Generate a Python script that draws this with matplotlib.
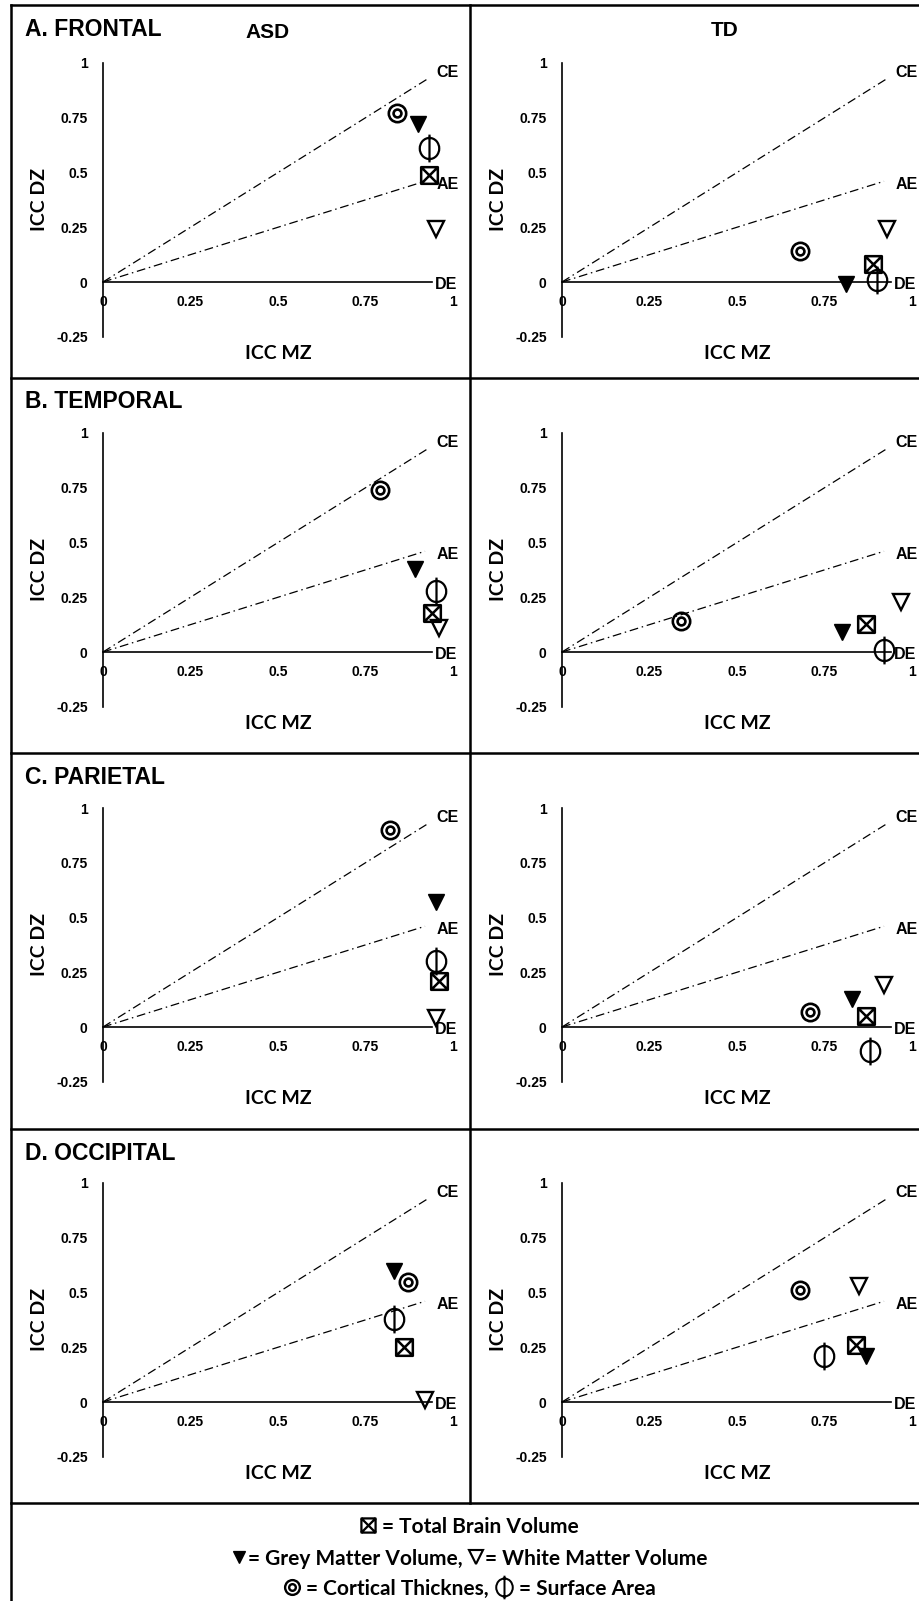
import numpy as np
import matplotlib
matplotlib.use("Agg")
import matplotlib.pyplot as plt
from matplotlib.path import Path
from matplotlib.transforms import Affine2D
from matplotlib.lines import Line2D

# ---- data: (ICC MZ, ICC DZ) per region, order = frontal, temporal, parietal, occipital
REGIONS = ['A. FRONTAL', 'B. TEMPORAL', 'C. PARIETAL', 'D. OCCIPITAL']
GROUPS = ['ASD', 'TD']

TBV_ASD = [(0.93, 0.49), (0.94, 0.18), (0.96, 0.21), (0.86, 0.25)]
TBV_TD = [(0.89, 0.08), (0.87, 0.13), (0.87, 0.05), (0.84, 0.26)]
GMV_ASD = [(0.90, 0.72), (0.89, 0.38), (0.95, 0.57), (0.83, 0.60)]
GMV_TD = [(0.81, -0.01), (0.80, 0.09), (0.83, 0.13), (0.87, 0.21)]
WMV_ASD = [(0.95, 0.24), (0.96, 0.11), (0.95, 0.04), (0.92, 0.01)]
WMV_TD = [(0.93, 0.24), (0.97, 0.23), (0.92, 0.19), (0.85, 0.53)]
CT_ASD = [(0.84, 0.77), (0.79, 0.74), (0.82, 0.90), (0.87, 0.55)]
CT_TD = [(0.68, 0.14), (0.34, 0.14), (0.71, 0.07), (0.68, 0.51)]
SA_ASD = [(0.93, 0.61), (0.95, 0.28), (0.95, 0.30), (0.83, 0.38)]
SA_TD = [(0.90, 0.01), (0.92, 0.01), (0.88, -0.11), (0.75, 0.21)]

X_TICKS = [0, 0.25, 0.5, 0.75, 1]
X_TICKLABELS = ['0', '0.25', '0.5', '0.75', '1']
Y_TICKS = [-0.25, 0, 0.25, 0.5, 0.75, 1]
Y_TICKLABELS = ['-0.25', '0', '0.25', '0.5', '0.75', '1']

REF_END = [0.93, 0.92, 0.94]  # how far CE / AE / DE lines run along MZ
REF_SLOPE = [1.0, 0.5, 0.0]
REF_NAMES = ['CE', 'AE', 'DE']

# legend lines: (marker index, gap before text px, text, gap after px)
LEGEND_LINES = [
    [(0, 7, '= Total Brain Volume', 0)],
    [(1, 2, '= Grey Matter Volume,', 6), (2, 2, '= White Matter Volume', 0)],
    [(3, 7, '= Cortical Thicknes,', 7), (4, 7, '= Surface Area', 0)],
]
LEGEND_Y = [1525, 1557, 1587]


# ---- custom marker shapes
def box_x_marker():
    verts = [(-1, -1), (1, -1), (1, 1), (-1, 1), (-1, -1),
             (-1, -1), (1, 1), (-1, 1), (1, -1)]
    codes = [Path.MOVETO, Path.LINETO, Path.LINETO, Path.LINETO, Path.CLOSEPOLY,
             Path.MOVETO, Path.LINETO, Path.MOVETO, Path.LINETO]
    return Path(verts, codes)


def double_circle_marker():
    outer = Path.unit_circle()
    inner = Path.unit_circle().transformed(Affine2D().scale(0.45))
    return Path.make_compound_path(outer, inner)


def phi_marker():
    oval = Path.unit_circle().transformed(Affine2D().scale(0.7, 0.76))
    stem = Path([(0, -1), (0, 1)], [Path.MOVETO, Path.LINETO])
    return Path.make_compound_path(oval, stem)


W, H = 920, 1601
fig = plt.figure(figsize=(W / 100, H / 100), dpi=100)

COL_X0 = [103, 562]           # pixel of MZ = 0
ROW_Y1 = [63, 433, 808, 1183]  # pixel of DZ = 1
ROW_TOP = [6, 378, 753, 1129]
X_UNIT, Y_UNIT = 350, 219

tick_font = dict(family='Liberation Sans', weight='bold', size=10)
label_font = dict(family='Lato', weight='bold', size=14)

data = {
    'ASD': [TBV_ASD, GMV_ASD, WMV_ASD, CT_ASD, SA_ASD],
    'TD': [TBV_TD, GMV_TD, WMV_TD, CT_TD, SA_TD],
}
styles = [
    dict(marker=box_x_marker(), ms=12, mfc='none', mec='k', mew=1.8),
    dict(marker='v', ms=11, mfc='k', mec='k', mew=1),
    dict(marker='v', ms=12, mfc='none', mec='k', mew=1.7),
    dict(marker=double_circle_marker(), ms=12.5, mfc='none', mec='k', mew=1.9),
    dict(marker=phi_marker(), ms=20, mfc='none', mec='k', mew=1.6),
]
mark_w = [1.0, 1.0, 1.0, 1.0, 0.7]  # marker width relative to its size

for r in range(4):
    for c, grp in enumerate(GROUPS):
        h = 1.25 * Y_UNIT
        ax = fig.add_axes([COL_X0[c] / W, 1 - (ROW_Y1[r] + h) / H, X_UNIT / W, h / H])
        ax.set_facecolor('none')
        ax.set_xlim(0, 1)
        ax.set_ylim(-0.25, 1)
        for s in ['top', 'right']:
            ax.spines[s].set_visible(False)
        ax.spines['left'].set_position(('data', 0))
        ax.spines['bottom'].set_position(('data', 0))
        ax.spines['left'].set_bounds(-0.25, 1)
        ax.spines['bottom'].set_bounds(0, REF_END[2])
        for s in ['left', 'bottom']:
            ax.spines[s].set_linewidth(1.2)
        ax.set_xticks(X_TICKS)
        ax.set_xticklabels(X_TICKLABELS, fontdict=tick_font)
        ax.set_yticks(Y_TICKS)
        ax.set_yticklabels(Y_TICKLABELS, fontdict=tick_font)
        ax.tick_params(axis='x', length=0, pad=9)
        ax.tick_params(axis='y', length=0, pad=11)

        # model reference lines
        for end, slope, name, off in zip(REF_END, REF_SLOPE, REF_NAMES,
                                         [(6, 4), (8.5, -2), (2, -1.5)]):
            mz = np.array([0, end])
            if slope > 0:
                ax.plot(mz, slope * mz, color='k', lw=0.9,
                        dashes=(7, 3, 1.2, 3), clip_on=False)
            ax.annotate(name, xy=(end, slope * end), xytext=off,
                        textcoords='offset points', ha='left', va='center',
                        family='Liberation Sans', weight='bold', fontsize=11.5)

        for pts, st in zip(data[grp], styles):
            x, y = pts[r]
            ax.plot([x], [y], linestyle='none', clip_on=False, zorder=3, **st)

        ax.set_ylabel('ICC DZ', va='center', **label_font)
        ax.yaxis.set_label_coords((40 - 103) / X_UNIT, 0.5)
        ax.set_xlabel('ICC MZ', va='center', **label_font)
        ax.xaxis.set_label_coords(0.5, -0.06)

    fig.text(25 / W, 1 - (ROW_TOP[r] + 24) / H, REGIONS[r], ha='left', va='center',
             family='Liberation Sans', weight='bold', fontsize=16.5)

fig.text(268 / W, 1 - 32 / H, 'ASD', ha='center', va='center',
         family='Liberation Sans', weight='bold', fontsize=15)
fig.text(725 / W, 1 - 30 / H, 'TD', ha='center', va='center',
         family='Liberation Sans', weight='bold', fontsize=15)

# panel frame
def hline(y, x0=11, x1=920):
    fig.add_artist(Line2D([x0 / W, x1 / W], [1 - y / H, 1 - y / H],
                          transform=fig.transFigure, color='k', lw=1.8))

def vline(x, y0, y1):
    fig.add_artist(Line2D([x / W, x / W], [1 - y0 / H, 1 - y1 / H],
                          transform=fig.transFigure, color='k', lw=1.8))

hline(5)
for y in [378, 753, 1129, 1503]:
    hline(y)
vline(11, 5, 1601)
vline(470, 5, 1503)

# legend: markers + text, each line centred under the divider
leg = fig.add_axes([0, 0, 1, 1])
leg.set_xlim(0, W)
leg.set_ylim(H, 0)
leg.axis('off')
renderer = fig.canvas.get_renderer()
leg_scale = 0.85
leg_font = dict(family='Lato', weight='bold', fontsize=15)
for y, items in zip(LEGEND_Y, LEGEND_LINES):
    pieces = []
    total = 0
    for mi, gap, txt, gap2 in items:
        mw = styles[mi]['ms'] * leg_scale * mark_w[mi] * 100 / 72
        t = leg.text(0, y + 7.5, txt, ha='left', va='baseline', **leg_font)
        tw = t.get_window_extent(renderer).width
        pieces.append((mi, mw, gap, t, tw, gap2))
        total += mw + gap + tw + gap2
    x = 470 - total / 2
    for mi, mw, gap, t, tw, gap2 in pieces:
        st = dict(styles[mi])
        st['ms'] = st['ms'] * leg_scale
        st['mew'] = st['mew'] * 0.9
        leg.plot([x + mw / 2], [y], linestyle='none', clip_on=False, **st)
        x += mw + gap
        t.set_x(x)
        x += tw + gap2

fig.savefig('out.png', dpi=100, facecolor='white')
